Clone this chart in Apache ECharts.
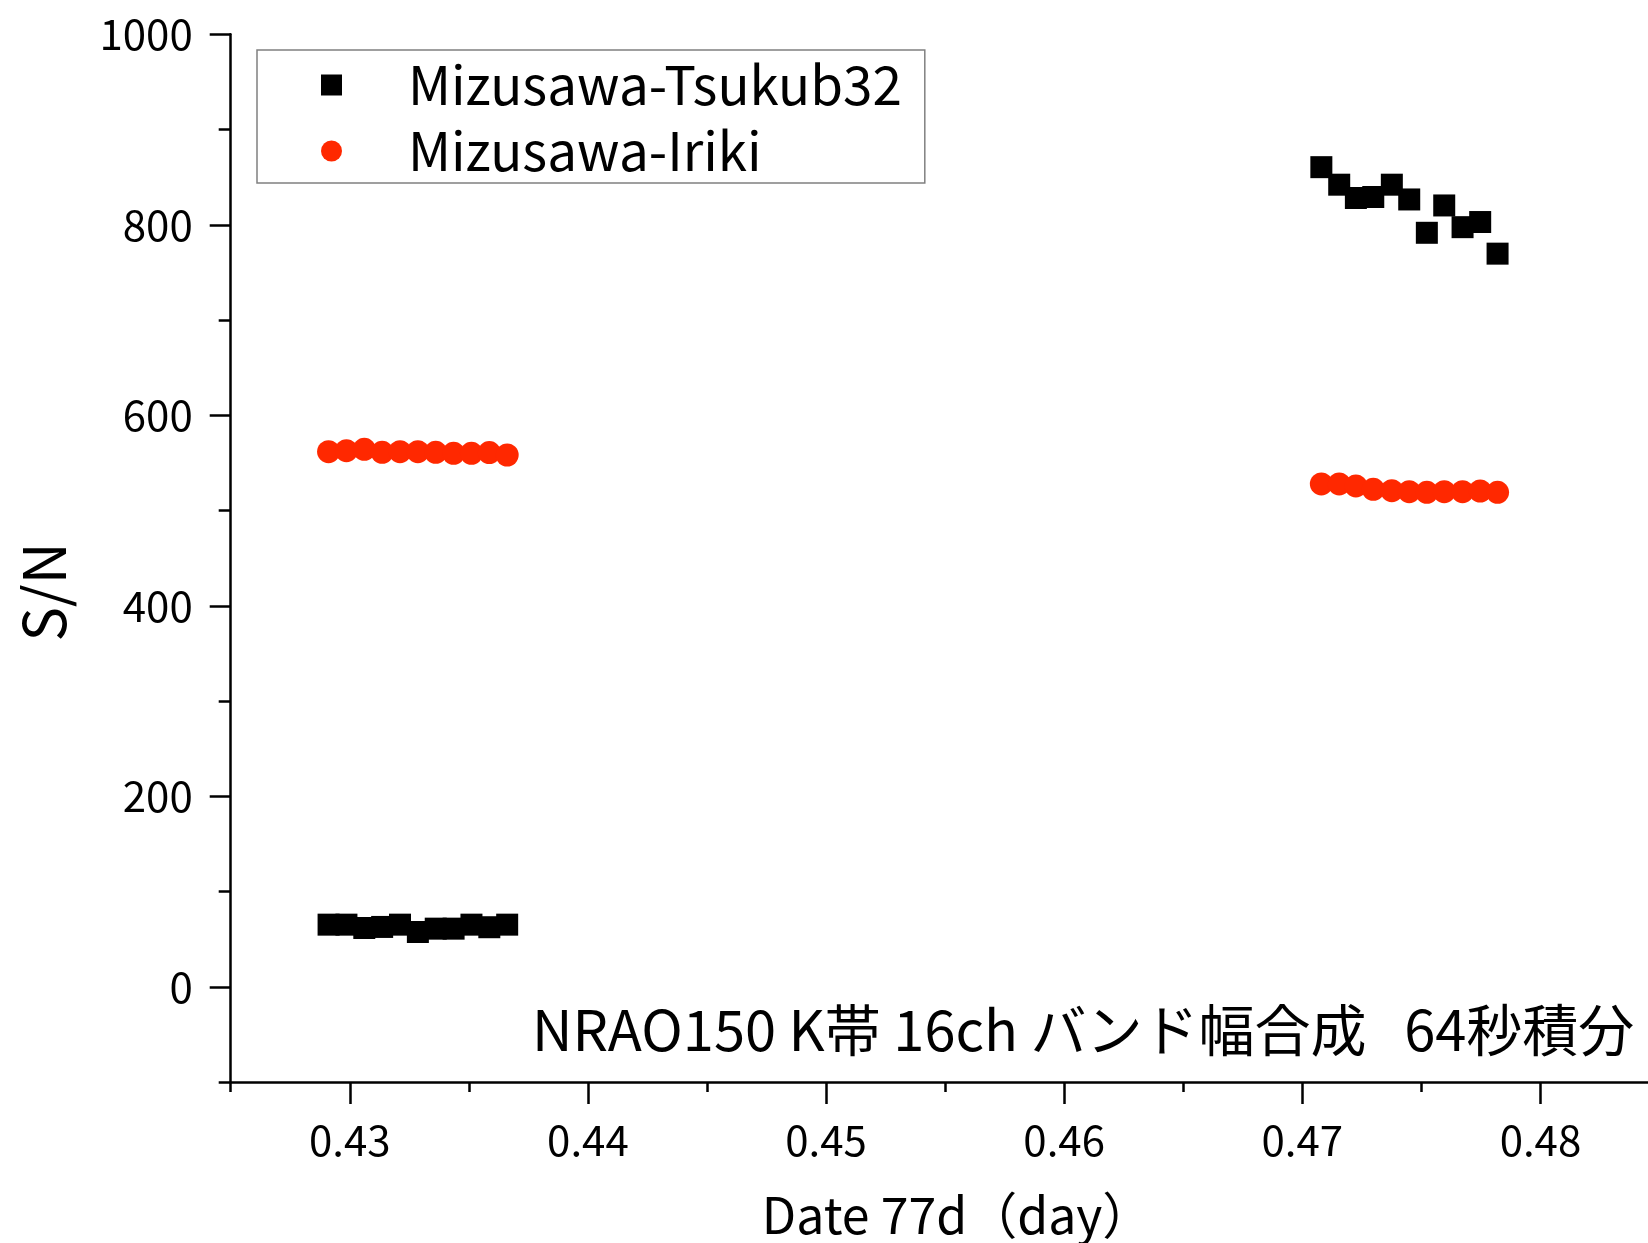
<!DOCTYPE html>
<html>
<head>
<meta charset="utf-8">
<script src="https://cdn.jsdelivr.net/npm/echarts@6/dist/echarts.min.js"></script>
<style>
  html, body { margin: 0; padding: 0; background: #fff; }
  #main { width: 1648px; height: 1243px; }
</style>
</head>
<body>
<div id="main"></div>
<script>
// 観測時刻 (day) と S/N
const dateLeft = [0.42911, 0.42986, 0.43061, 0.43136, 0.43211, 0.43286, 0.43361, 0.43436, 0.43511, 0.43586, 0.43661];
const dateRight = [0.47080, 0.47155, 0.47225, 0.47298, 0.47376, 0.47449, 0.47523, 0.47596, 0.47673, 0.47747, 0.47820];
const tsukub32Left = [65.2, 65.2, 61.7, 62.8, 65.2, 57.5, 61.0, 61.0, 65.2, 62.5, 65.2];
const tsukub32Right = [860.5, 842.1, 828.1, 829.2, 842.1, 826.6, 791.6, 820.3, 797.5, 802.9, 769.7];
const irikiLeft = [561.8, 562.8, 564.3, 561.1, 561.8, 561.8, 561.1, 560.1, 560.1, 560.8, 558.3];
const irikiRight = [527.9, 527.9, 525.8, 522.3, 520.8, 519.8, 519.1, 519.8, 519.8, 520.5, 519.1];

// 目盛り
const xTicks = [0.43, 0.44, 0.45, 0.46, 0.47, 0.48];
const yTicks = [0, 200, 400, 600, 800, 1000];
const xRange = [0.425, 0.485];
const yRange = [-100, 1000];

const seriesNames = ['Mizusawa-Tsukub32', 'Mizusawa-Iriki'];
const note = 'NRAO150 K帯 16ch バンド幅合成   64秒積分';

const FONT = "'Noto Sans CJK JP', 'Noto Sans', sans-serif";

function pairs(xs, ys) {
  return xs.map((x, i) => [x, ys[i]]);
}

const chart = echarts.init(document.getElementById('main'));

// 主目盛りは別グリッドの軸で描く(ラベル付き・長い目盛り)
const gridLeft = 230.7, gridTop = 34.3, gridW = 1428.8, gridH = 1047.7;
const pxPerX = gridW / (xRange[1] - xRange[0]);
const pxPerY = gridH / (yRange[1] - yRange[0]);

const option = {
  backgroundColor: '#fff',
  animation: false,
  textStyle: { fontFamily: FONT },
  grid: [
    { left: gridLeft, top: gridTop, width: gridW, height: gridH, outerBoundsMode: 'none' },
    {
      left: gridLeft + (xTicks[0] - xRange[0]) * pxPerX,
      width: (xTicks[xTicks.length - 1] - xTicks[0]) * pxPerX,
      top: gridTop, height: gridH, outerBoundsMode: 'none'
    },
    {
      left: gridLeft, width: gridW,
      top: gridTop + (yRange[1] - yTicks[yTicks.length - 1]) * pxPerY,
      height: (yTicks[yTicks.length - 1] - yTicks[0]) * pxPerY,
      outerBoundsMode: 'none'
    }
  ],
  xAxis: [
    {
      gridIndex: 0, type: 'value', min: xRange[0], max: xRange[1], interval: 0.005,
      axisLine: { onZero: false, lineStyle: { color: '#000', width: 2.5 } },
      axisTick: { length: 10, lineStyle: { color: '#000', width: 2.5 } },
      axisLabel: { show: false },
      splitLine: { show: false }
    },
    {
      gridIndex: 1, type: 'value', min: xTicks[0], max: xTicks[xTicks.length - 1],
      interval: 0.01,
      axisLine: { show: false, onZero: false },
      axisTick: { length: 22, lineStyle: { color: '#000', width: 2.5 } },
      axisLabel: { color: '#000', fontSize: 42, margin: 37, fontFamily: FONT,
        formatter: v => v.toFixed(2) },
      splitLine: { show: false },
      name: 'Date 77d（day）', nameLocation: 'middle', nameGap: 108,
      nameTextStyle: { color: '#000', fontSize: 50, fontFamily: FONT, padding: [0, 0, 0, 24] }
    },
    { gridIndex: 2, type: 'value', min: xRange[0], max: xRange[1], show: false }
  ],
  yAxis: [
    {
      gridIndex: 0, type: 'value', min: yRange[0], max: yRange[1], interval: 100,
      axisLine: { onZero: false, lineStyle: { color: '#000', width: 2.5 } },
      axisTick: { length: 12, lineStyle: { color: '#000', width: 2.5 } },
      axisLabel: { show: false },
      splitLine: { show: false }
    },
    { gridIndex: 1, type: 'value', min: yRange[0], max: yRange[1], show: false },
    {
      gridIndex: 2, type: 'value', min: yTicks[0], max: yTicks[yTicks.length - 1],
      interval: 200,
      axisLine: { show: false, onZero: false },
      axisTick: { length: 21, lineStyle: { color: '#000', width: 2.5 } },
      axisLabel: { color: '#000', fontSize: 42, margin: 38, fontFamily: FONT,
        formatter: v => String(v) },
      splitLine: { show: false }
    }
  ],
  legend: {
    orient: 'vertical',
    left: 257, top: 50,
    padding: [5, 23, 2, 64],
    itemGap: 6,
    itemWidth: 21, itemHeight: 21,
    borderColor: '#808080', borderWidth: 1.5,
    backgroundColor: '#fff',
    selectedMode: false,
    textStyle: { color: '#000', fontSize: 53, lineHeight: 60, fontFamily: FONT, padding: [0, 0, 0, 61] },
    data: seriesNames
  },
  graphic: [
    {
      type: 'text', left: 532, top: 1002,
      style: { text: note, fill: '#000', font: '56px ' + FONT }
    },
    {
      type: 'text', x: 44, y: 592, rotation: Math.PI / 2,
      style: { text: 'S/N', fill: '#000', font: '58px ' + FONT, align: 'center', verticalAlign: 'middle' }
    }
  ],
  series: [
    {
      name: seriesNames[0], type: 'scatter', xAxisIndex: 0, yAxisIndex: 0,
      symbol: 'rect', symbolSize: 22,
      itemStyle: { color: '#000', opacity: 1 },
      data: pairs(dateLeft, tsukub32Left).concat(pairs(dateRight, tsukub32Right))
    },
    {
      name: seriesNames[1], type: 'scatter', xAxisIndex: 0, yAxisIndex: 0,
      symbol: 'circle', symbolSize: 23,
      itemStyle: { color: '#ff2800', opacity: 1 },
      data: pairs(dateLeft, irikiLeft).concat(pairs(dateRight, irikiRight))
    }
  ]
};

chart.setOption(option);
</script>
</body>
</html>
